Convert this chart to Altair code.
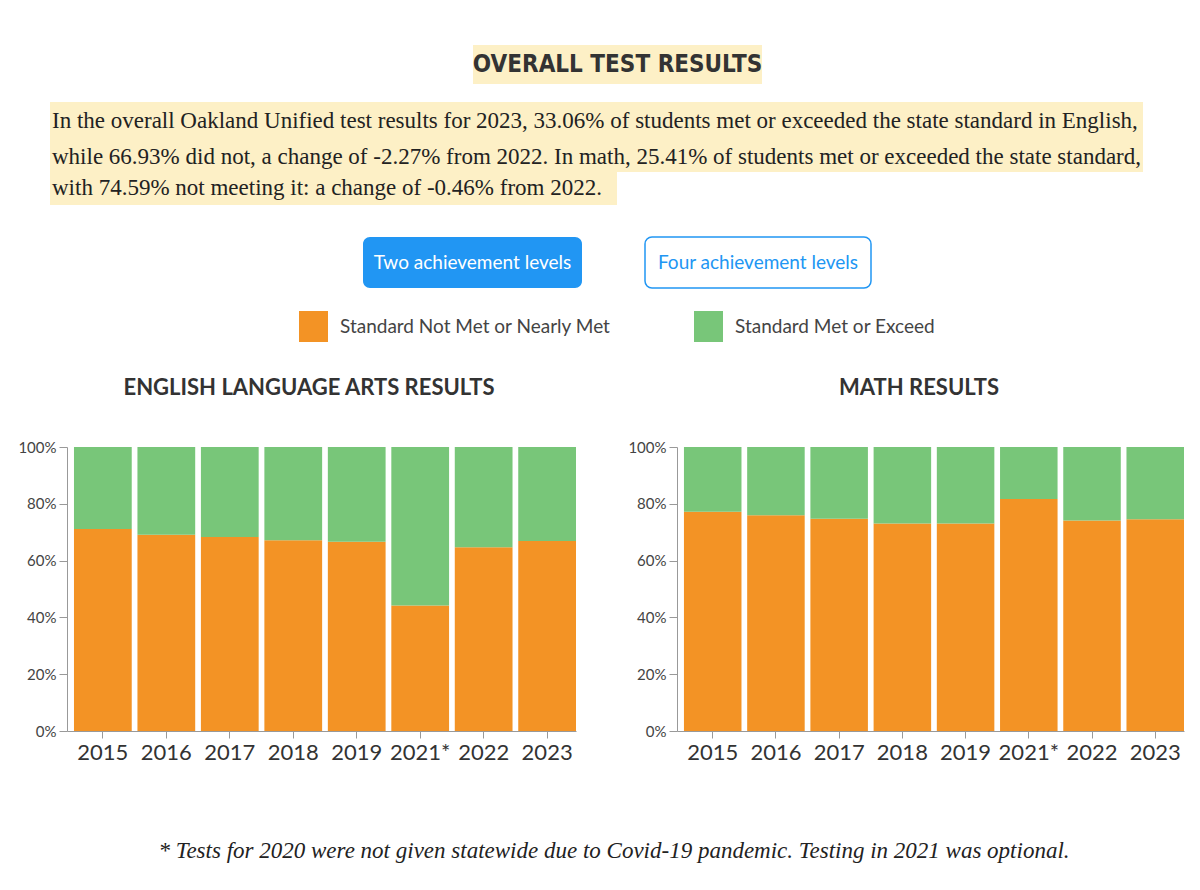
import altair as alt
import pandas as pd

# ---------------- data ----------------
years = ["2015", "2016", "2017", "2018", "2019", "2021*", "2022", "2023"]
ela_not_met = [71.1, 69.1, 68.3, 67.2, 66.6, 44.2, 64.67, 66.93]
math_not_met = [77.2, 76.0, 74.7, 73.1, 73.1, 81.7, 74.13, 74.59]
levels = ["Standard Not Met or Nearly Met", "Standard Met or Exceed"]
colors = ["#F39325", "#78C679"]
y_ticks = [0, 20, 40, 60, 80, 100]

title_text = "OVERALL TEST RESULTS"
para_lines = [
    "In the overall Oakland Unified test results for 2023, 33.06% of students met or exceeded the state standard in English,",
    "while 66.93% did not, a change of -2.27% from 2022. In math, 25.41% of students met or exceeded the state standard,",
    "with 74.59% not meeting it: a change of -0.46% from 2022.",
]
buttons = ["Two achievement levels", "Four achievement levels"]
panel_titles = ["ENGLISH LANGUAGE ARTS RESULTS", "MATH RESULTS"]
footnote = "* Tests for 2020 were not given statewide due to Covid-19 pandemic. Testing in 2021 was optional."

SANS = "Lato"
SERIF = "Liberation Serif"
COND = "'Liberation Sans Narrow', 'DejaVu Sans Condensed', 'Roboto Condensed', Roboto, sans-serif"
HIGHLIGHT = "#FDF0C6"
BLUE = "#2196F3"
OX = 67  # page x of the header/footer origin
OY = 8


def frame(vals):
    rows = []
    for yr, v in zip(years, vals):
        rows.append({"year": yr, "level": levels[0], "pct": v, "order": 0})
        rows.append({"year": yr, "level": levels[1], "pct": round(100 - v, 2), "order": 1})
    return pd.DataFrame(rows)


one = pd.DataFrame({"a": [0]})


def rect(x, x2, y, y2, **kw):
    return alt.Chart(one).mark_rect(**kw).encode(
        x=alt.value(x - OX), x2=alt.value(x2 - OX), y=alt.value(y - OY), y2=alt.value(y2 - OY)
    )


def text(x, y, s, oy=OY, **kw):
    base = dict(baseline="middle")
    base.update(kw)
    return alt.Chart(one).mark_text(**base).encode(
        x=alt.value(x - OX), y=alt.value(y - oy), text=alt.value(s)
    )


# coordinates below are page pixels
header_layers = [
    rect(473, 762, 45, 84, color=HIGHLIGHT),
    text(617.5, 65, title_text, align="center", font=COND,
         fontSize=24, fontWeight="bold", color="#333333"),
    rect(50, 1143, 102, 172, color=HIGHLIGHT),
    rect(50, 617, 172, 205, color=HIGHLIGHT),
    text(52, 121, para_lines[0], align="left", font=SERIF, fontSize=23, color="#222222"),
    text(52, 156.5, para_lines[1], align="left", font=SERIF, fontSize=23, color="#222222"),
    text(52, 188, para_lines[2], align="left", font=SERIF, fontSize=23, color="#222222"),
    rect(363, 582, 237, 288, color=BLUE, cornerRadius=7),
    text(472.5, 262.5, buttons[0], align="center", font=SANS, fontSize=19, color="white"),
    rect(645, 871, 237, 288, fill="white", stroke=BLUE, strokeWidth=1.5, cornerRadius=7),
    text(758, 262.5, buttons[1], align="center", font=SANS, fontSize=19, color=BLUE),
    rect(299, 328, 311, 342, color=colors[0]),
    text(340, 327, levels[0], align="left", font=SANS, fontSize=19, color="#444444"),
    rect(694, 723, 311, 342, color=colors[1]),
    text(735, 327, levels[1], align="left", font=SANS, fontSize=19, color="#444444"),
    text(309, 388, panel_titles[0], align="center", font=SANS, fontSize=22,
         fontWeight="bold", color="#333333"),
    text(919, 388, panel_titles[1], align="center", font=SANS, fontSize=22,
         fontWeight="bold", color="#333333"),
]
header = alt.layer(*header_layers).properties(width=1125, height=432)


def bars(vals, width):
    return alt.Chart(frame(vals)).mark_bar().encode(
        x=alt.X(
            "year:N", sort=years, title=None,
            scale=alt.Scale(paddingInner=0.09, paddingOuter=0.055, align=1),
            axis=alt.Axis(labelAngle=0, labelFontSize=22, labelColor="#333333",
                          labelFont=SANS, tickSize=7, tickColor="#999999",
                          domainColor="#999999", labelPadding=4),
        ),
        y=alt.Y(
            "pct:Q", stack="zero", title=None,
            scale=alt.Scale(domain=[0, 100]),
            axis=alt.Axis(values=y_ticks, labelExpr="datum.value + '%'",
                          labelFontSize=15, labelColor="#444444", labelFont=SANS,
                          tickSize=8, tickColor="#999999", domainColor="#999999",
                          labelPadding=3, minExtent=59),
        ),
        color=alt.Color("level:N", scale=alt.Scale(domain=levels, range=colors), legend=None),
        order=alt.Order("order:Q", sort="ascending"),
    ).properties(width=width, height=284)


ela = bars(ela_not_met, 509)
math = bars(math_not_met, 507)

footer = alt.layer(
    text(614, 88, footnote, oy=0, align="center", font=SERIF, fontSize=23,
         fontStyle="italic", color="#222222")
).properties(width=1125, height=100)

chart = alt.vconcat(
    header,
    alt.hconcat(ela, math, spacing=42),
    footer,
    spacing=0,
).properties(padding=0).configure_view(strokeWidth=0).configure_axis(grid=False)

chart.save("out.html", embed_options={"renderer": "svg", "actions": False})
